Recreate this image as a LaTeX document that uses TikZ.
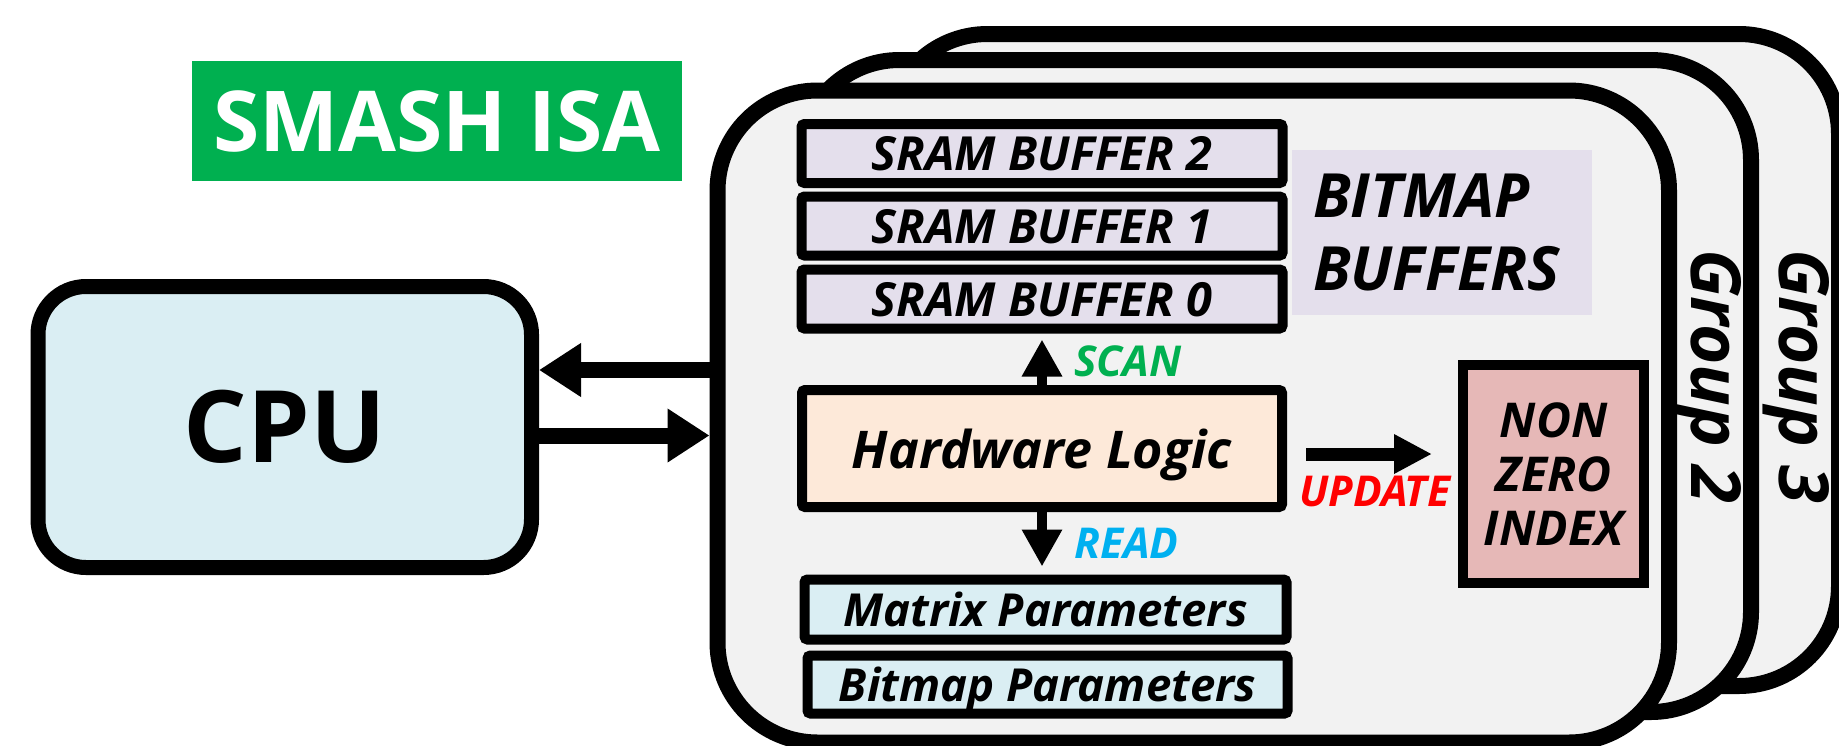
\documentclass[tikz,border=0pt]{standalone}
\usepackage{fontspec}
\setmainfont{Open Sans}
\usetikzlibrary{arrows.meta}

\definecolor{isagreen}{HTML}{00B050}
\definecolor{cpublue}{HTML}{DAEEF3}
\definecolor{grpgray}{HTML}{F2F2F2}
\definecolor{sramlav}{HTML}{E4DFEC}
\definecolor{hwpeach}{HTML}{FDE9D9}
\definecolor{nzpink}{HTML}{E6B8B7}
\definecolor{readblue}{HTML}{00B0F0}
\definecolor{updred}{HTML}{FF0000}

\tikzset{
  group/.style={draw, line width=16pt, fill=grpgray, rounded corners=100pt,
    minimum width=951.5pt, minimum height=652pt, inner sep=0pt},
  grouplabel/.style={rotate=-90, anchor=base, inner sep=0pt,
    font=\fontsize{69}{74}\selectfont\bfseries\itshape},
  membox/.style={draw, line width=10pt, rounded corners=3pt, inner sep=0pt,
    minimum width=481pt, minimum height=59pt, text depth=0pt,
    font=\fontsize{47}{52}\selectfont\bfseries\itshape},
  parambox/.style={membox, fill=cpublue, font=\fontsize{45.5}{52}\selectfont\bfseries\itshape},
  hostarrow/.style={line width=16pt, -{Triangle[length=42pt, width=51pt]}},
  busarrow/.style={line width=9.5pt, -{Triangle[length=37pt, width=38pt]}},
  tag/.style={anchor=base west, inner sep=0pt,
    font=\fontsize{42.5}{48}\selectfont\bfseries\itshape}
}

\begin{document}
\begin{tikzpicture}[x=1pt, y=-1pt]
  \useasboundingbox (0,0) rectangle (1839,745);

  \node[fill=isagreen, text=white, minimum width=490pt, minimum height=120pt, inner sep=0pt,
    font=\fontsize{84}{90}\selectfont\bfseries] (isa) at (437,121) {SMASH ISA};

  \node[draw, line width=15pt, fill=cpublue, rounded corners=48pt, inner sep=0pt,
    minimum width=493.5pt, minimum height=281pt,
    font=\fontsize{100}{110}\selectfont\bfseries] (cpu) at (284.75,427) {CPU};

  \node[group] (grp3) at (1363.25,360) {};
  \node[group] (grp2) at (1275.25,386) {};
  \node[group] (grp1) at (1193.25,416.5) {};
  \node[grouplabel] (lbl3) at (1779,376.5) {Group 3};
  \node[grouplabel] (lbl2) at (1691,376.5) {Group 2};

  \node[membox, fill=sramlav] (sram2) at (1042,153.5) {SRAM BUFFER 2};
  \node[membox, fill=sramlav] (sram1) at (1042,226) {SRAM BUFFER 1};
  \node[membox, fill=sramlav] (sram0) at (1042,299) {SRAM BUFFER 0};

  \node[fill=sramlav, minimum height=165pt, text width=258pt, inner xsep=21pt,
    align=left,
    font=\fontsize{61}{73}\selectfont\bfseries\itshape] (bitmaps) at (1442,232.5)
    {BITMAP\\BUFFERS};

  \node[membox, fill=hwpeach, minimum width=480pt, minimum height=117pt,
    font=\fontsize{52}{60}\selectfont\bfseries\itshape] (hw) at (1042,448.5) {Hardware Logic};

  \node[parambox, minimum width=482pt, minimum height=60pt] (mtx) at (1045.5,609.5) {Matrix Parameters};
  \node[parambox, minimum width=480pt, minimum height=58pt] (bmp) at (1047.5,684.5) {Bitmap Parameters};

  \node[draw, line width=10pt, fill=nzpink, minimum width=181pt, minimum height=218pt,
    inner sep=0pt, align=center, text depth=0pt,
    font=\fontsize{48}{54}\selectfont\bfseries\itshape] (nz) at (1553.5,474) {NON\\ZERO\\INDEX};

  \draw[hostarrow] (grp1.west |- 0,370) -- (cpu.east |- 0,370);
  \draw[hostarrow] (cpu.east |- 0,435.5) -- (grp1.west |- 0,435.5);

  \draw[busarrow, shorten >=6pt] (hw.north) -- (sram0.south);
  \draw[busarrow, shorten >=8pt] (hw.south) -- (hw.south |- mtx.north);
  \draw[line width=13pt, -{Triangle[length=38pt, width=37pt]}, shorten <=19pt, shorten >=26pt]
    (hw.east |- 0,454) -- (nz.west |- 0,454);

  \node[tag, text=isagreen] (scan) at (1074,376) {SCAN};
  \node[tag, text=readblue] (read) at (1074,558) {READ};
  \node[tag, text=updred] (update) at (1299,506) {UPDATE};
\end{tikzpicture}
\end{document}
